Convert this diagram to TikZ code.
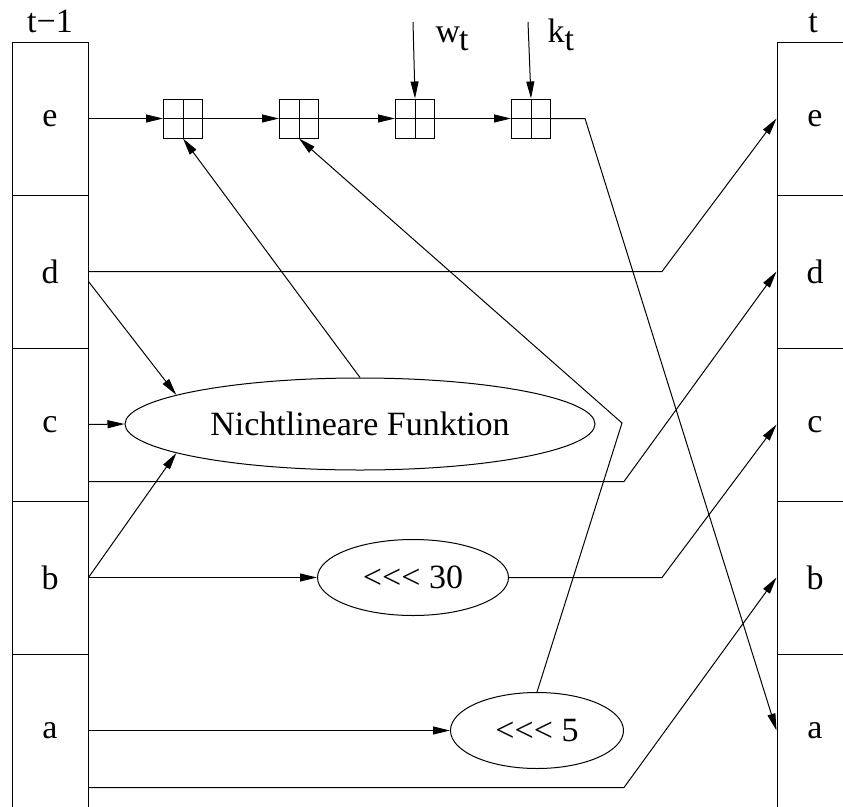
\documentclass[tikz,border=0pt]{standalone}
\usepackage{fontspec}
\setmainfont{Liberation Serif}
\usetikzlibrary{arrows.meta,shapes.geometric,positioning}

\newcommand{\rotl}{<\kern0pt<\kern0pt<}
\tikzset{
  cell/.style={draw, minimum width=76pt, minimum height=153pt, inner sep=0pt},
  adder/.style={draw, minimum size=39pt, inner sep=0pt,
    path picture={
      \draw (path picture bounding box.north) -- (path picture bounding box.south);
      \draw (path picture bounding box.west) -- (path picture bounding box.east);}},
  func/.style={draw, ellipse, inner sep=0pt},
  lbl/.style={inner sep=0pt}
}

\begin{document}
\begin{tikzpicture}[x=1pt,y=-1pt,line width=1pt,
    >={Triangle[length=17pt,width=8pt]},
    font=\fontsize{34}{40}\selectfont]
        \useasboundingbox (0,0) rectangle (843,806);
        % registers
        \foreach \n [count=\i] in {e,d,c,b,a} {
          \node[cell] (l-\n) at (50,{118.5+153*(\i-1)}) {\n};
          \node[cell] (r-\n) at (815,{118.5+153*(\i-1)}) {\n};
        }
        \node[lbl,anchor=base] (tprev) at (50,32) {t−1};
        \node[lbl,anchor=base] (tnow) at (813,32) {t};
        % adders
        \node[adder] (add1) at (183,118.5) {};
        \node[adder,right=76pt of add1] (add2) {};
        \node[adder,right=76pt of add2] (add3) {};
        \node[adder,right=76pt of add3] (add4) {};
        \coordinate (wt) at (413,22);
        \coordinate (kt) at (528,22);
        \node[lbl,anchor=base west] (wlbl) at (435,42) {w\kern-1pt\raisebox{-8pt}{t}};
        \node[lbl,anchor=base west] (klbl) at (547,42) {k\raisebox{-8pt}{t}};
        % functions
        \node[func,minimum width=470pt,minimum height=92pt] (nlf) at (360,424) {Nichtlineare Funktion};
        \node[func,minimum width=191pt,minimum height=76pt] (rot30) at (413,577.5) {\rotl{} 30};
        \node[func,minimum width=173pt,minimum height=76pt] (rot5) at (537,730.5) {\rotl{} 5};
        % e
        \draw[->] (l-e.east) -- (add1.west);
        \draw[->] (add1.east) -- (add2.west);
        \draw[->] (add2.east) -- (add3.west);
        \draw[->] (add3.east) -- (add4.west);
        \draw[->] (wt) -- (add3.north);
        \draw[->] (kt) -- (add4.north);
        \draw[->] (add4.east) -- (585,118.5) -- (r-a.west);
        % d
        \draw[->] (l-d.east) -- (662,271.5) -- (r-e.west);
        \draw[->] ([yshift=-10pt]l-d.east) -- (nlf.171);
        % c
        \draw[->] (l-c.east) -- (nlf.west);
        \draw[->] (nlf.north) -- (add1.south);
        \draw[->] ([yshift=-57pt]l-c.east) -- (624,481.5) -- (r-d.west);
        % b
        \draw[->] (l-b.east) -- (rot30.west);
        \draw[->] (l-b.east) -- (nlf.189);
        \draw[->] (rot30.east) -- (662,577.5) -- (r-c.west);
        % a
        \draw[->] (l-a.east) -- (rot5.west);
        \draw[->] (rot5.north) -- (622,423) -- (add2.south);
        \draw[->] ([yshift=-57pt]l-a.east) -- (624,787.5) -- (r-b.west);
    \end{tikzpicture}
\end{document}
